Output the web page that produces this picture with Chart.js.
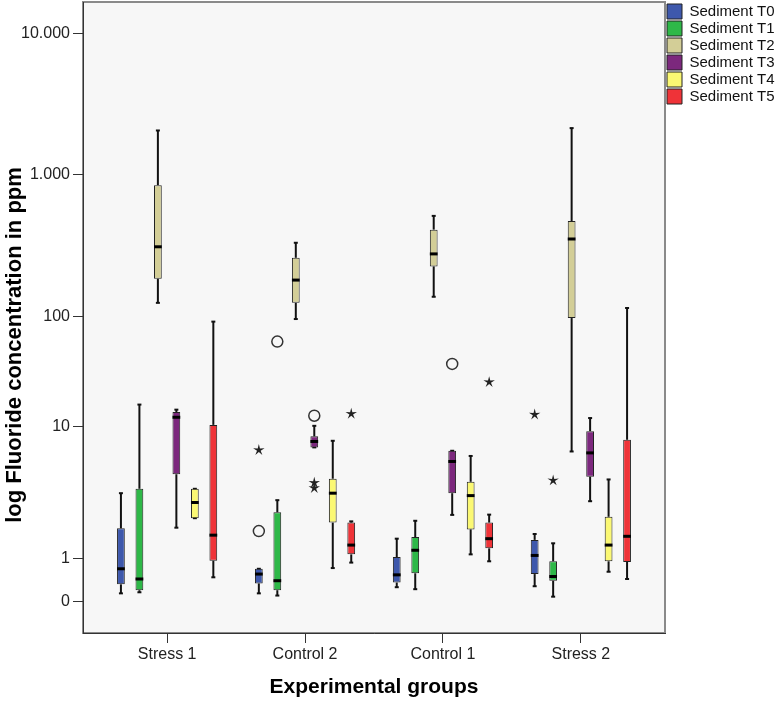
<!DOCTYPE html>
<html>
<head>
<meta charset="utf-8">
<title>Fluoride concentration by experimental group</title>
<script src="https://cdn.jsdelivr.net/npm/chart.js@4.4.1/dist/chart.umd.min.js"></script>
<style>
  html, body { margin: 0; padding: 0; background: #fff; }
  #wrap { width: 775px; height: 701px; }
</style>
</head>
<body>
<div id="wrap"><canvas id="boxChart"></canvas></div>
<script>
// groups on the x axis
const groups = ["Stress 1", "Control 2", "Control 1", "Stress 2"];
const seriesNames = ["Sediment T0", "Sediment T1", "Sediment T2", "Sediment T3", "Sediment T4", "Sediment T5"];

// per group: [min, q1, median, q3, max] in ppm
const sedimentT0 = [[0.57, 0.66, 0.85, 1.70, 3.14], [0.57, 0.67, 0.78, 0.85, 0.85], [0.63, 0.68, 0.77, 1.03, 1.42], [0.64, 0.78, 1.06, 1.39, 1.54]];
const sedimentT1 = [[0.58, 0.60, 0.72, 3.39, 15.9], [0.55, 0.60, 0.70, 2.25, 2.78], [0.61, 0.79, 1.16, 1.46, 1.94], [0.54, 0.70, 0.75, 0.96, 1.31]];
const sedimentT2 = [[125, 185, 311, 847, 2066], [95, 125, 181, 260, 332], [138, 226, 277, 411, 514], [6.5, 97, 353, 473, 2148]];
const sedimentT3 = [[1.72, 4.37, 12.2, 13.6, 14.3], [6.98, 6.98, 7.74, 8.46, 10.2], [2.15, 3.14, 5.46, 6.58, 6.58], [2.73, 4.19, 6.34, 9.26, 12.0]];
const sedimentT4 = [[2.03, 2.03, 2.67, 3.39, 3.39], [0.86, 1.88, 3.14, 4.04, 7.83], [1.08, 1.67, 3.01, 3.83, 6.01], [0.81, 0.96, 1.27, 2.08, 3.99]];
const sedimentT5 = [[0.74, 0.97, 1.51, 10.4, 90], [0.94, 1.08, 1.27, 1.88, 1.92], [0.96, 1.20, 1.42, 1.88, 2.16], [0.72, 0.95, 1.48, 7.97, 115]];

// outliers (circle = outlier, star = extreme)
const outlierGroup  = [1, 1, 1, 1, 1, 1, 1, 2, 2, 3, 3];
const outlierSeries = [0, 0, 1, 3, 3, 3, 5, 3, 5, 0, 1];
const outlierValue  = [1.62, 6.66, 59.3, 12.6, 3.76, 3.43, 13.1, 37.2, 25.4, 12.9, 3.92];
const outlierKind   = ["circle", "star", "circle", "circle", "star", "star", "star", "circle", "star", "star", "star"];

// y axis tick values and their labels
const yTickValues = [0.5, 1, 10, 100, 1000, 10000];
const yTickLabels = ["0", "1", "10", "100", "1.000", "10.000"];

const allSeries = [sedimentT0, sedimentT1, sedimentT2, sedimentT3, sedimentT4, sedimentT5];
const seriesColors = ["#3e58ac", "#2eb848", "#d3ce97", "#7c287d", "#fbf873", "#ef3338"];

// the printed axis is not evenly spaced: where each labelled tick sits (decades above the lowest)
const yTickStops = [0, 0.301, 1.233, 2.011, 3.011, 4.007];
const logTicks = yTickValues.map(Math.log10);

function axisPos(v) {
  if (!(v > 0)) return NaN;
  const lv = Math.log10(v);
  let i = 0;
  while (i < logTicks.length - 2 && lv > logTicks[i + 1]) i++;
  return yTickStops[i] + (lv - logTicks[i]) / (logTicks[i + 1] - logTicks[i]) * (yTickStops[i + 1] - yTickStops[i]);
}
function axisValue(p) {
  let i = 0;
  while (i < yTickStops.length - 2 && p > yTickStops[i + 1]) i++;
  const lv = logTicks[i] + (p - yTickStops[i]) / (yTickStops[i + 1] - yTickStops[i]) * (logTicks[i + 1] - logTicks[i]);
  return Math.pow(10, lv);
}

// log-like scale with the stops above
class SedimentLogScale extends Chart.LinearScale {
  determineDataLimits() {
    this.min = this.options.min;
    this.max = this.options.max;
  }
  buildTicks() {
    return yTickValues.map(v => ({ value: v }));
  }
  getPixelForValue(value) {
    return super.getPixelForValue(axisPos(value));
  }
  getValueForPixel(pixel) {
    return axisValue(super.getValueForPixel(pixel));
  }
}
SedimentLogScale.id = "sedimentLog";
SedimentLogScale.defaults = {};
Chart.register(SedimentLogScale);

const FONT = "'Liberation Sans', Arial, sans-serif";

function drawStar(ctx, x, y, r) {
  ctx.beginPath();
  for (let k = 0; k < 10; k++) {
    const rad = k % 2 === 0 ? r : r * 0.32;
    const ang = -Math.PI / 2 + k * Math.PI / 5;
    const px = x + rad * Math.cos(ang), py = y + rad * Math.sin(ang);
    if (k === 0) ctx.moveTo(px, py); else ctx.lineTo(px, py);
  }
  ctx.closePath();
  ctx.fill();
}

// background, whiskers, medians and outliers
const boxplotMarks = {
  id: "boxplotMarks",
  beforeDraw(chart) {
    const { ctx, chartArea: a } = chart;
    ctx.save();
    ctx.fillStyle = "#f7f7f7";
    ctx.fillRect(a.left, a.top, a.right - a.left, a.bottom - a.top);
    ctx.strokeStyle = "#8a8a8a";
    ctx.lineWidth = 2;
    ctx.strokeRect(a.left, a.top, a.right - a.left, a.bottom - a.top);
    ctx.restore();
  },
  beforeDatasetsDraw(chart) {
    const { ctx } = chart;
    const y = chart.scales.y;
    ctx.save();
    ctx.strokeStyle = "#111";
    ctx.lineWidth = 2;
    allSeries.forEach((series, s) => {
      const meta = chart.getDatasetMeta(s);
      series.forEach((st, g) => {
        const x = meta.data[g].x;
        const segs = [[st[3], st[4]], [st[0], st[1]]];
        segs.forEach(([a, b]) => {
          if (a === b) return;
          ctx.beginPath();
          ctx.moveTo(x, y.getPixelForValue(a));
          ctx.lineTo(x, y.getPixelForValue(b));
          ctx.stroke();
        });
        [st[0], st[4]].forEach(v => {
          const py = y.getPixelForValue(v);
          ctx.beginPath();
          ctx.moveTo(x - 2, py);
          ctx.lineTo(x + 2, py);
          ctx.stroke();
        });
      });
    });
    ctx.restore();
  },
  afterDatasetsDraw(chart) {
    const { ctx } = chart;
    const y = chart.scales.y;
    ctx.save();
    allSeries.forEach((series, s) => {
      const meta = chart.getDatasetMeta(s);
      series.forEach((st, g) => {
        const bar = meta.data[g];
        const py = y.getPixelForValue(st[2]);
        ctx.strokeStyle = "#000";
        ctx.lineWidth = 3;
        ctx.beginPath();
        ctx.moveTo(bar.x - bar.width / 2, py);
        ctx.lineTo(bar.x + bar.width / 2, py);
        ctx.stroke();
      });
    });
    outlierValue.forEach((v, k) => {
      const bar = chart.getDatasetMeta(outlierSeries[k]).data[outlierGroup[k]];
      const px = bar.x, py = y.getPixelForValue(v);
      if (outlierKind[k] === "circle") {
        ctx.beginPath();
        ctx.arc(px, py, 5.5, 0, Math.PI * 2);
        ctx.fillStyle = "#f7f7f7";
        ctx.fill();
        ctx.strokeStyle = "#333";
        ctx.lineWidth = 1.5;
        ctx.stroke();
      } else {
        ctx.fillStyle = "#222";
        drawStar(ctx, px, py, 6);
      }
    });
    ctx.restore();
  }
};

const ctx = document.getElementById("boxChart").getContext("2d");
const boxChart = new Chart(ctx, {
  type: "bar",
  data: {
    datasets: allSeries.map((series, s) => ({
      label: seriesNames[s],
      data: series.map((st, g) => ({ x: g, y: [st[1], st[3]] })),
      backgroundColor: seriesColors[s],
      borderColor: "#222",
      borderWidth: 1,
      borderSkipped: false,
      categoryPercentage: 0.804,
      barPercentage: 0.42,
    })),
  },
  options: {
    responsive: true,
    maintainAspectRatio: false,
    animation: false,
    layout: { padding: { top: 2, left: 0, right: 0, bottom: 0 } },
    plugins: {
      tooltip: { enabled: false },
      legend: {
        position: "right",
        align: "start",
        maxWidth: 110,
        labels: {
          boxWidth: 15,
          boxHeight: 15,
          padding: 2,
          color: "#111",
          font: { family: FONT, size: 15 },
        },
      },
    },
    scales: {
      x: {
        type: "linear",
        min: -0.61,
        max: 3.61,
        offset: false,
        afterBuildTicks: (scale) => {
          scale.ticks = groups.map((_, i) => ({ value: i }));
        },
        afterFit: (scale) => {
          scale.height = 68;
          scale.paddingLeft = 0;
          scale.paddingRight = 0;
        },
        grid: { offset: false, drawOnChartArea: false, tickLength: 10, color: "#333" },
        border: { color: "#333", width: 1 },
        ticks: {
          autoSkip: false,
          maxRotation: 0,
          padding: 2,
          color: "#222",
          font: { family: FONT, size: 16 },
          callback: (v) => groups[v],
        },
        title: {
          display: true,
          text: "Experimental groups",
          color: "#000",
          font: { family: FONT, size: 21, weight: "bold", lineHeight: 1 },
          padding: { top: 0, bottom: 3 },
        },
      },
      y: {
        type: "sedimentLog",
        min: -0.223,
        max: 4.232,
        afterFit: (scale) => {
          scale.width = 83;
          scale.paddingTop = 0;
          scale.paddingBottom = 0;
        },
        grid: { drawOnChartArea: false, tickLength: 10, color: "#333" },
        border: { color: "#333", width: 1 },
        ticks: {
          autoSkip: false,
          padding: 3,
          color: "#222",
          font: { family: FONT, size: 16 },
          callback: (v, i) => yTickLabels[i],
        },
        title: {
          display: true,
          // trailing spaces move the centred title down, as in the original
          text: "log Fluoride concentration in ppm         ",
          color: "#000",
          font: { family: FONT, size: 22, weight: "bold", lineHeight: 1 },
          padding: { top: 4, bottom: 0 },
        },
      },
    },
  },
  plugins: [boxplotMarks],
});
</script>
</body>
</html>
